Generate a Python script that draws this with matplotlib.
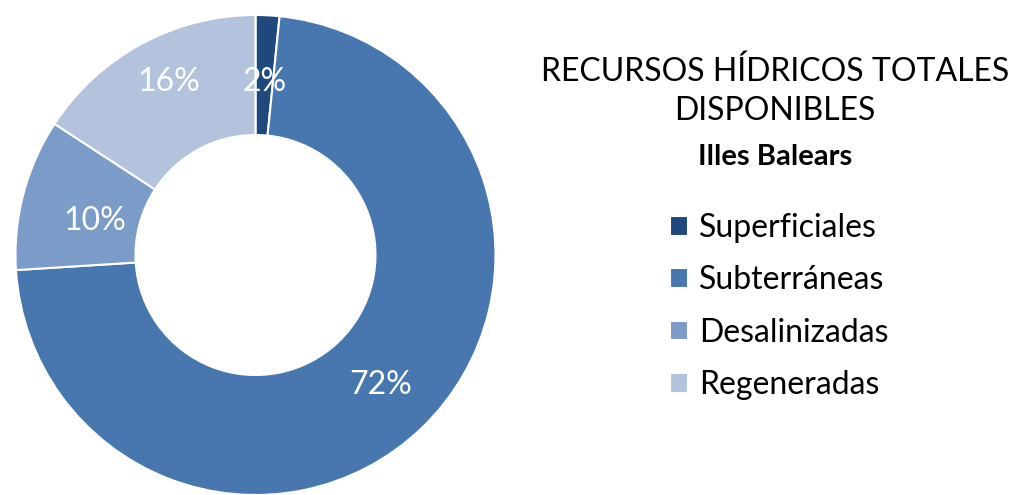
import matplotlib
matplotlib.use("Agg")
import matplotlib.pyplot as plt

plt.rcParams["font.family"] = ["Lato", "DejaVu Sans"]

# data (clockwise from 12 o'clock)
categories = ["Superficiales", "Subterráneas", "Desalinizadas", "Regeneradas"]
shares = [1.6, 72.4, 10.2, 15.8]
colors = ["#1f497d", "#4877b0", "#7b9bc9", "#b3c3de"]

title_lines = ["RECURSOS HÍDRICOS TOTALES", "DISPONIBLES"]
subtitle = "Illes Balears"

W, H = 1025, 495
fig = plt.figure(figsize=(W / 100, H / 100), dpi=100)
ax = fig.add_axes([15.5 / W, 0.0, 480 / W, 480 / H])

wedges, _, autotexts = ax.pie(
    shares,
    colors=colors,
    startangle=90,
    counterclock=False,
    radius=1.0,
    autopct="%.0f%%",
    pctdistance=0.75,
    wedgeprops=dict(width=0.5, edgecolor="white", linewidth=1.5),
    textprops=dict(color="white", fontsize=23),
)
# Excel puts a couple of labels a bit off the ring middle
autotexts[0].set_y(autotexts[0].get_position()[1] - 0.03)
autotexts[2].set_position((-0.67, 0.14))
autotexts[3].set_position((-0.36, 0.72))

ax.set_xlim(-1.0, 1.0)
ax.set_ylim(-1.0, 1.0)
ax.set_aspect("equal")
ax.axis("off")

# title block on the right
fig.text(775 / W, 1 - 72 / H, title_lines[0], ha="center", va="center", fontsize=23, color="black")
fig.text(775 / W, 1 - 111 / H, title_lines[1], ha="center", va="center", fontsize=23, color="black")
fig.text(775 / W, 1 - 157 / H, subtitle, ha="center", va="center", fontsize=21, fontweight="bold", color="black")

fig.legend(
    wedges,
    categories,
    loc="upper left",
    bbox_to_anchor=(670 / W, 1 - 213 / H),
    frameon=False,
    fontsize=23,
    borderpad=0,
    borderaxespad=0,
    handlelength=0.57,
    handleheight=0.57,
    handletextpad=0.35,
    labelspacing=0.7,
)

fig.savefig("out.png", dpi=100, facecolor="white")
